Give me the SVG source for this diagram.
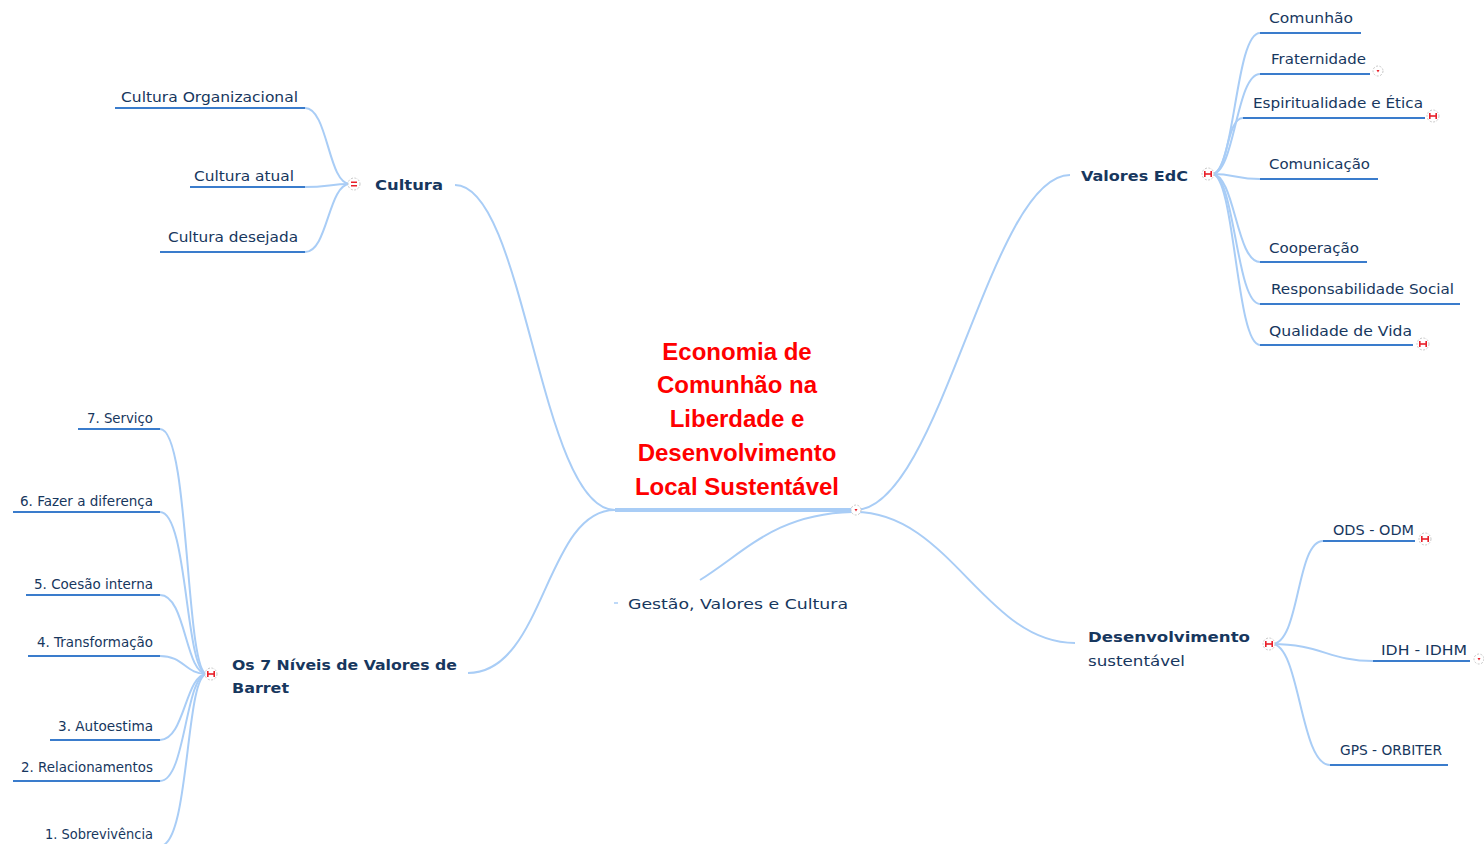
<svg xmlns="http://www.w3.org/2000/svg" width="1484" height="844" viewBox="0 0 1484 844">
<style>
.con{fill:none;stroke:#a9cdf6;stroke-width:2}
.ul{stroke:#3a7ccc;stroke-width:2}
.t{font-family:"DejaVu Sans",Verdana,sans-serif;fill:#17375e;font-size:14px}
.b{font-weight:bold}
.main{font-family:"Liberation Sans",Arial,sans-serif;fill:#ff0000;font-size:24px;font-weight:bold;text-anchor:middle}
.mk{fill:#fff;stroke:#c8c8c8;stroke-width:1;stroke-dasharray:2 1.5}
.r{fill:#e8202a}
</style>
<defs>
<g id="mH"><circle class="mk" r="6"/><rect class="r" x="-4" y="-3" width="1.6" height="6"/><rect class="r" x="2.4" y="-3" width="1.6" height="6"/><rect class="r" x="-4" y="-0.8" width="8" height="1.6"/></g>
<g id="mE"><circle class="mk" r="6"/><rect class="r" x="-3" y="-2.5" width="6" height="1.5"/><rect class="r" x="-3" y="1" width="6" height="1.5"/></g>
<g id="mD"><circle class="mk" r="5"/><path class="r" d="M-1.5,-1 L1.5,-1 L0,1.5Z"/></g>
</defs>

<g id="connectors">
<path class="con" d="M455,185 C525,185 540,510 615,510"/>
<path class="con" d="M468,673 C545,673 545,510 615,510"/>
<path class="con" d="M855,510 C940,510 990,175 1070,175"/>
<path class="con" d="M855,512 C950,512 985,643 1075,643"/>
<path class="con" d="M700,580 C745,552 775,514 852,512"/>
<line x1="615" y1="510" x2="852" y2="510" stroke="#a9cdf6" stroke-width="4"/>
<path class="con" d="M350,184 C328,184 328,108 305,108"/>
<path class="con" d="M350,184 C330,184 328,187 305,187"/>
<path class="con" d="M350,184 C328,184 328,252 305,252"/>
<path class="con" d="M207,674 C185,674 190,429 160,429"/>
<path class="con" d="M207,674 C185,674 188,512 160,512"/>
<path class="con" d="M207,674 C185,674 186,595 160,595"/>
<path class="con" d="M207,674 C185,674 184,656 160,656"/>
<path class="con" d="M207,674 C185,674 185,740 160,740"/>
<path class="con" d="M207,674 C185,674 186,781 160,781"/>
<path class="con" d="M207,674 C185,674 190,846 160,846"/>
<path class="con" d="M1212,174 C1235,174 1235,33 1260,33"/>
<path class="con" d="M1212,174 C1235,174 1236,74 1260,74"/>
<path class="con" d="M1212,174 C1228,174 1226,118 1243,118"/>
<path class="con" d="M1212,174 C1235,174 1236,179 1260,179"/>
<path class="con" d="M1212,174 C1235,174 1236,262 1260,262"/>
<path class="con" d="M1212,174 C1235,174 1236,304 1260,304"/>
<path class="con" d="M1212,174 C1235,174 1236,345 1260,345"/>
<path class="con" d="M1272,644 C1300,644 1296,541 1323,541"/>
<path class="con" d="M1272,644 C1320,644 1330,661 1373,661"/>
<path class="con" d="M1272,644 C1300,644 1300,765 1330,765"/>
</g>

<g id="root">
<text class="main" x="737" y="360">Economia de</text>
<text class="main" x="737" y="393">Comunhão na</text>
<text class="main" x="737" y="427">Liberdade e</text>
<text class="main" x="737" y="461">Desenvolvimento</text>
<text class="main" x="737" y="495">Local Sustentável</text>
<use href="#mD" x="856" y="510"/>
</g>

<g id="gestao">
<line x1="614" y1="603" x2="618" y2="603" stroke="#a9cdf6" stroke-width="1.5"/>
<text class="t" x="628" y="609" font-size="16" textLength="220" lengthAdjust="spacingAndGlyphs">Gestão, Valores e Cultura</text>
</g>

<g id="cultura">
<text class="t b" x="375" y="190" font-size="17" textLength="68" lengthAdjust="spacingAndGlyphs">Cultura</text>
<use href="#mE" x="354" y="184"/>
</g>
<g id="cultura-org"><line class="ul" x1="115" y1="108" x2="305" y2="108"/><text class="t" x="121" y="102" textLength="177" lengthAdjust="spacingAndGlyphs">Cultura Organizacional</text></g>
<g id="cultura-atual"><line class="ul" x1="190" y1="187" x2="305" y2="187"/><text class="t" x="194" y="181" textLength="100" lengthAdjust="spacingAndGlyphs">Cultura atual</text></g>
<g id="cultura-desejada"><line class="ul" x1="160" y1="252" x2="305" y2="252"/><text class="t" x="168" y="242" textLength="130" lengthAdjust="spacingAndGlyphs">Cultura desejada</text></g>

<g id="niveis">
<text class="t b" x="232" y="670" font-size="16" textLength="225" lengthAdjust="spacingAndGlyphs">Os 7 Níveis de Valores de</text>
<text class="t b" x="232" y="693" font-size="16" textLength="57" lengthAdjust="spacingAndGlyphs">Barret</text>
<use href="#mH" x="211" y="674"/>
</g>
<g id="n7"><line class="ul" x1="78" y1="429" x2="160" y2="429"/><text class="t" x="87" y="423" font-size="13" textLength="66" lengthAdjust="spacingAndGlyphs">7. Serviço</text></g>
<g id="n6"><line class="ul" x1="13" y1="512" x2="160" y2="512"/><text class="t" x="20" y="506" font-size="13" textLength="133" lengthAdjust="spacingAndGlyphs">6. Fazer a diferença</text></g>
<g id="n5"><line class="ul" x1="26" y1="595" x2="160" y2="595"/><text class="t" x="34" y="589" font-size="13" textLength="119" lengthAdjust="spacingAndGlyphs">5. Coesão interna</text></g>
<g id="n4"><line class="ul" x1="28" y1="656" x2="160" y2="656"/><text class="t" x="37" y="647" font-size="13" textLength="116" lengthAdjust="spacingAndGlyphs">4. Transformação</text></g>
<g id="n3"><line class="ul" x1="50" y1="740" x2="160" y2="740"/><text class="t" x="58" y="731" font-size="13" textLength="95" lengthAdjust="spacingAndGlyphs">3. Autoestima</text></g>
<g id="n2"><line class="ul" x1="13" y1="781" x2="160" y2="781"/><text class="t" x="21" y="772" font-size="13" textLength="132" lengthAdjust="spacingAndGlyphs">2. Relacionamentos</text></g>
<g id="n1"><line class="ul" x1="35" y1="846" x2="160" y2="846"/><text class="t" x="45" y="839" font-size="13" textLength="108" lengthAdjust="spacingAndGlyphs">1. Sobrevivência</text></g>

<g id="valores">
<text class="t b" x="1081" y="181" font-size="16" textLength="107" lengthAdjust="spacingAndGlyphs">Valores EdC</text>
<use href="#mH" x="1208" y="174"/>
</g>
<g id="v1"><line class="ul" x1="1260" y1="33" x2="1361" y2="33"/><text class="t" x="1269" y="23" textLength="84" lengthAdjust="spacingAndGlyphs">Comunhão</text></g>
<g id="v2"><line class="ul" x1="1260" y1="74" x2="1370" y2="74"/><text class="t" x="1271" y="64" textLength="95" lengthAdjust="spacingAndGlyphs">Fraternidade</text><use href="#mD" x="1378" y="71"/></g>
<g id="v3"><line class="ul" x1="1243" y1="118" x2="1425" y2="118"/><text class="t" x="1253" y="108" textLength="170" lengthAdjust="spacingAndGlyphs">Espiritualidade e Ética</text><use href="#mH" x="1433" y="116"/></g>
<g id="v4"><line class="ul" x1="1260" y1="179" x2="1378" y2="179"/><text class="t" x="1269" y="169" textLength="101" lengthAdjust="spacingAndGlyphs">Comunicação</text></g>
<g id="v5"><line class="ul" x1="1260" y1="262" x2="1367" y2="262"/><text class="t" x="1269" y="253" textLength="90" lengthAdjust="spacingAndGlyphs">Cooperação</text></g>
<g id="v6"><line class="ul" x1="1260" y1="304" x2="1460" y2="304"/><text class="t" x="1271" y="294" textLength="183" lengthAdjust="spacingAndGlyphs">Responsabilidade Social</text></g>
<g id="v7"><line class="ul" x1="1260" y1="345" x2="1413" y2="345"/><text class="t" x="1269" y="336" textLength="143" lengthAdjust="spacingAndGlyphs">Qualidade de Vida</text><use href="#mH" x="1423" y="344"/></g>

<g id="desenvolvimento">
<text class="t b" x="1088" y="642" font-size="17" textLength="162" lengthAdjust="spacingAndGlyphs">Desenvolvimento</text>
<text class="t" x="1088" y="666" font-size="17" textLength="97" lengthAdjust="spacingAndGlyphs">sustentável</text>
<use href="#mH" x="1269" y="644"/>
</g>
<g id="d1"><line class="ul" x1="1323" y1="541" x2="1415" y2="541"/><text class="t" x="1333" y="535" font-size="13" textLength="81" lengthAdjust="spacingAndGlyphs">ODS - ODM</text><use href="#mH" x="1425" y="539"/></g>
<g id="d2"><line class="ul" x1="1373" y1="661" x2="1470" y2="661"/><text class="t" x="1381" y="655" font-size="13" textLength="86" lengthAdjust="spacingAndGlyphs">IDH - IDHM</text><use href="#mD" x="1479" y="659"/></g>
<g id="d3"><line class="ul" x1="1330" y1="765" x2="1448" y2="765"/><text class="t" x="1340" y="755" font-size="13" textLength="102" lengthAdjust="spacingAndGlyphs">GPS - ORBITER</text></g>
</svg>
